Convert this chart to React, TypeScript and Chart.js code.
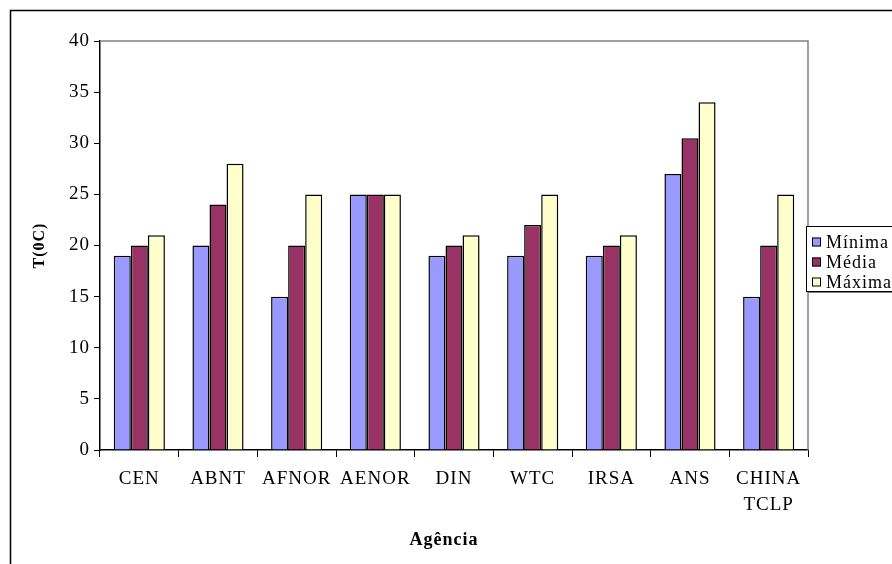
import React, { useEffect, useRef } from 'react';
import { Chart, registerables } from 'chart.js';

Chart.register(...registerables);

const categories: (string | string[])[] = ['CEN', 'ABNT', 'AFNOR', 'AENOR', 'DIN', 'WTC', 'IRSA', 'ANS', ['CHINA', 'TCLP']];
const minima = [19, 20, 15, 25, 19, 19, 19, 27, 15];
const media = [20, 24, 20, 25, 20, 22, 20, 30.5, 20];
const maxima = [21, 28, 25, 25, 21, 25, 21, 34, 25];
const seriesNames = ['Mínima', 'Média', 'Máxima'];
const seriesColors = ['#9999FF', '#993366', '#FFFFCC'];
const xTitle = 'Agência';
const yTitle = 'T(0C)';
const yTicksMax = 40;
const yStep = 5;

const FONT = '"Liberation Serif", "Times New Roman", serif';

const spacingPlugin = {
  id: 'spacing',
  beforeDraw(chart: any) {
    chart.ctx.letterSpacing = '1px';
  },
};

const framePlugin = {
  id: 'frame',
  afterDraw(chart: any) {
    const { ctx, chartArea } = chart;
    ctx.save();
    ctx.letterSpacing = '1px';
    // outer frame
    ctx.strokeStyle = '#000';
    ctx.lineWidth = 1.5;
    ctx.strokeRect(10.5, 10.5, 1000, 1000);
    // plot area top/right border
    ctx.strokeStyle = '#808080';
    ctx.lineWidth = 1.5;
    ctx.beginPath();
    ctx.moveTo(chartArea.left, chartArea.top);
    ctx.lineTo(chartArea.right, chartArea.top);
    ctx.lineTo(chartArea.right, chartArea.bottom);
    ctx.stroke();
    // x axis title
    ctx.fillStyle = '#000';
    ctx.font = `bold 18px ${FONT}`;
    ctx.textAlign = 'center';
    ctx.textBaseline = 'middle';
    ctx.fillText(xTitle, 444, 540);
    // legend
    const lx = 806, ly = 226, lw = 120, lh = 65;
    ctx.fillStyle = '#808080';
    ctx.fillRect(lx + 2, ly + 2, lw, lh);
    ctx.fillStyle = '#fff';
    ctx.fillRect(lx, ly, lw, lh);
    ctx.strokeStyle = '#000';
    ctx.lineWidth = 1;
    ctx.strokeRect(lx + 0.5, ly + 0.5, lw, lh);
    ctx.font = `18px ${FONT}`;
    ctx.textBaseline = 'middle';
    ctx.textAlign = 'left';
    chart.data.datasets.forEach((ds: any, i: number) => {
      const cy = ly + 16 + i * 20;
      ctx.fillStyle = ds.backgroundColor;
      ctx.fillRect(lx + 6, cy - 4.5, 9, 9);
      ctx.strokeStyle = '#000';
      ctx.strokeRect(lx + 6.5, cy - 4, 8, 8);
      ctx.fillStyle = '#000';
      ctx.fillText(ds.label, lx + 20, cy + 1);
    });
    ctx.restore();
  },
};

export default function App() {
  const ref = useRef<HTMLCanvasElement | null>(null);
  useEffect(() => {
    document.body.style.margin = '0';
    const chart = new Chart(ref.current!, {
      type: 'bar',
      data: {
        labels: categories as any,
        datasets: [minima, media, maxima].map((d, i) => ({
          label: seriesNames[i],
          data: d,
          backgroundColor: seriesColors[i],
          borderColor: '#000',
          borderWidth: 1.5,
          categoryPercentage: 0.65,
          barPercentage: 1,
        })),
      },
      options: {
        responsive: false,
        animation: false,
        layout: { padding: { top: 41, right: 84, left: 0, bottom: 0 } },
        plugins: { legend: { display: false }, tooltip: { enabled: false } },
        scales: {
          x: {
            grid: { display: true, drawOnChartArea: false, drawTicks: true, tickLength: 7, color: '#000', offset: true },
            border: { display: true, color: '#000', width: 1.5 },
            ticks: { color: '#000', font: { family: FONT, size: 19, lineHeight: 1.37 }, padding: 9, maxRotation: 0, autoSkip: false },
            title: { display: false },
            afterFit: (s: any) => { s.height = 114; },
          },
          y: {
            min: 0,
            max: yTicksMax,
            ticks: { stepSize: yStep, color: '#000', font: { family: FONT, size: 19 }, padding: 4 },
            grid: { display: true, drawOnChartArea: false, drawTicks: true, tickLength: 6, color: '#000' },
            border: { display: true, color: '#000', width: 1.5 },
            title: { display: true, text: yTitle, color: '#000', font: { family: FONT, size: 16, weight: 'bold' }, padding: { top: 30, bottom: 0 } },
            afterFit: (s: any) => { s.width = 100; },
          },
        },
      },
      plugins: [spacingPlugin, framePlugin],
    });
    return () => chart.destroy();
  }, []);
  return (
    <div style={{ position: 'absolute', left: 0, top: 0, width: 892, height: 564, background: '#fff' }}>
      <canvas ref={ref} width={892} height={564} />
    </div>
  );
}
